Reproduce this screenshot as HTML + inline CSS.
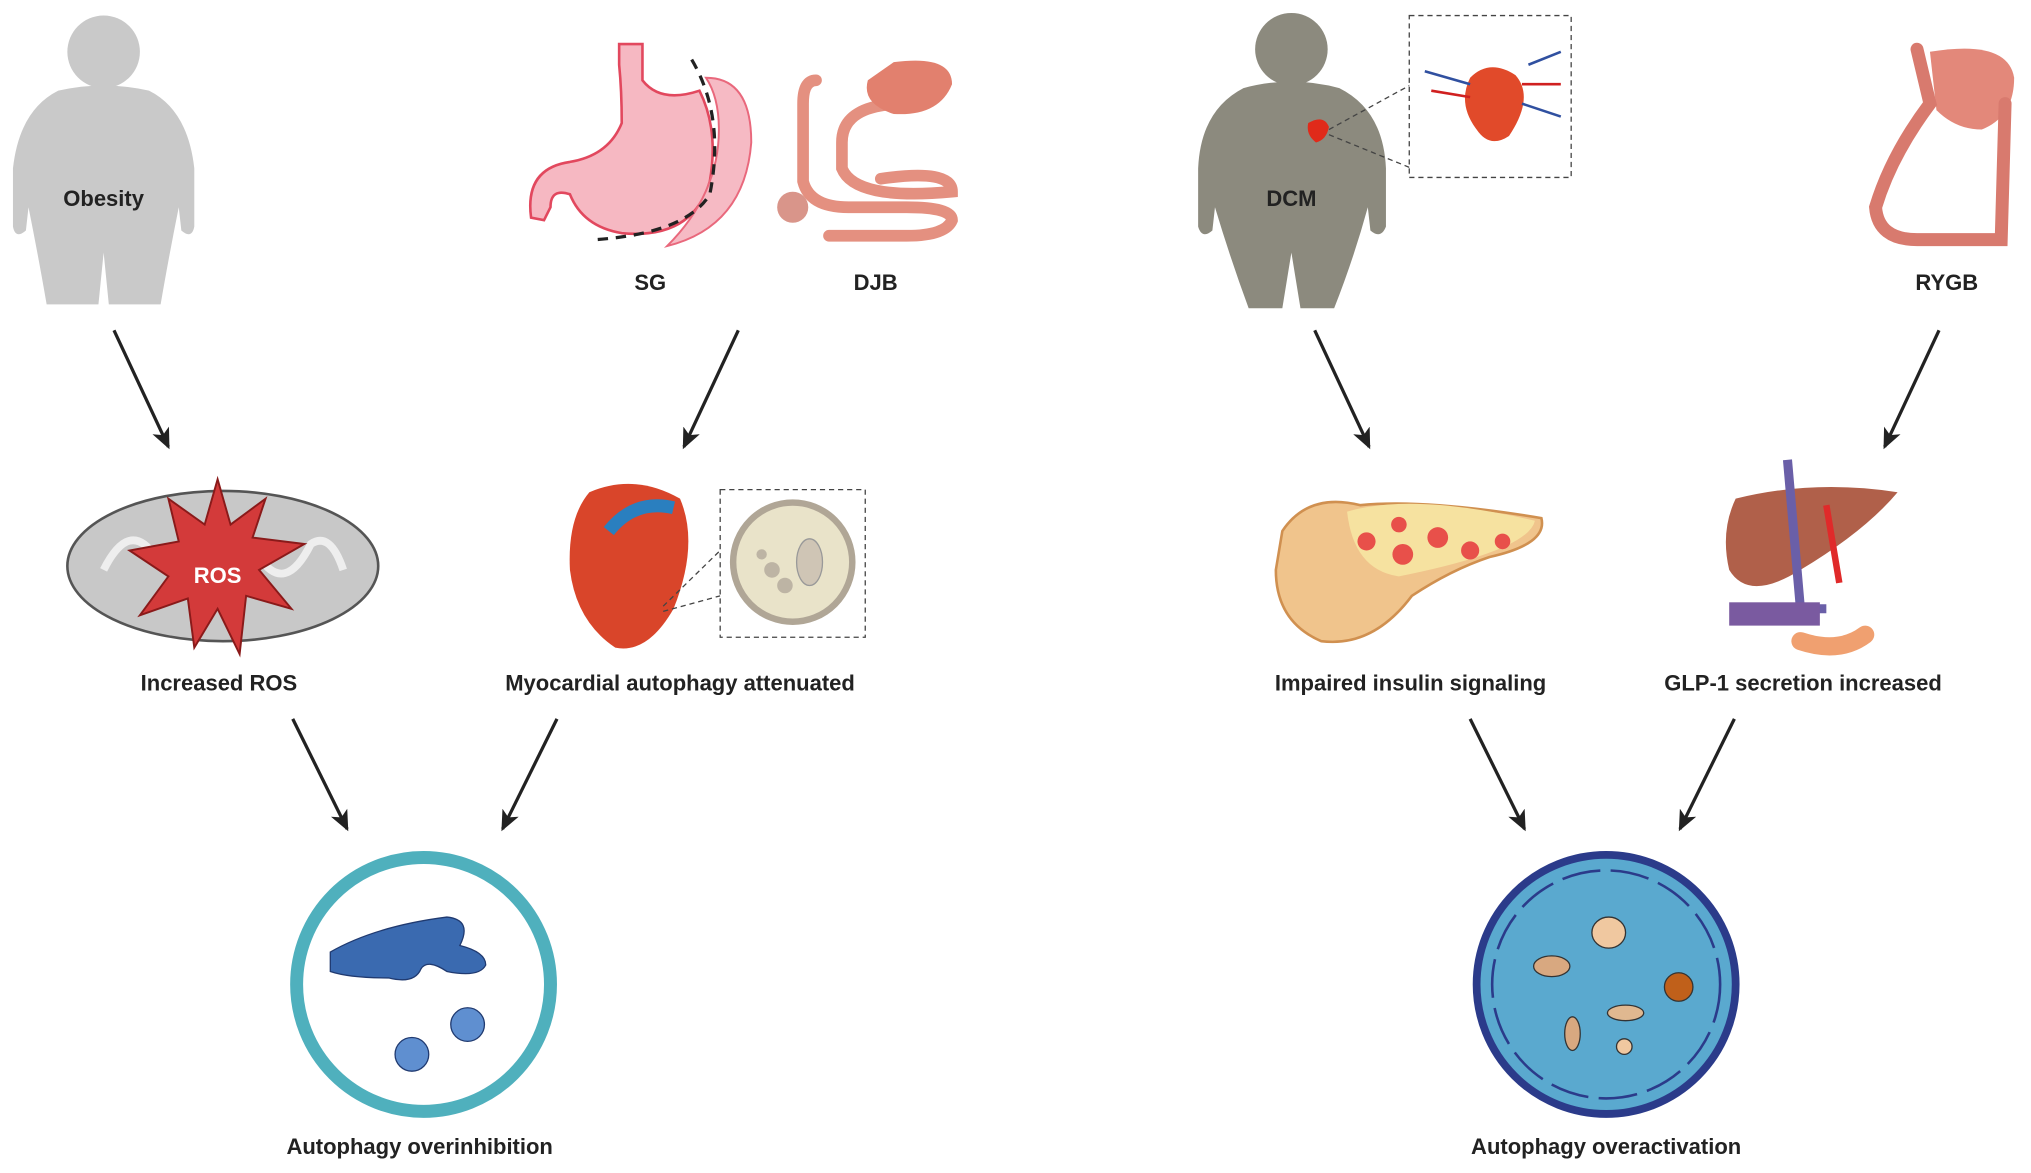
<!DOCTYPE html>
<html><head><meta charset="utf-8"><style>
html,body{margin:0;padding:0;background:#fff;width:2031px;height:1173px;overflow:hidden}
svg{display:block}
text{font-family:"Liberation Sans",Arial,sans-serif;font-weight:bold;fill:#222;font-size:17px;text-anchor:middle}
</style></head><body>
<svg width="2031" height="1173" viewBox="0 0 1568 905.6" xmlns="http://www.w3.org/2000/svg">
<defs>
<marker id="ah" markerWidth="18" markerHeight="14" refX="14" refY="7" orient="auto" markerUnits="userSpaceOnUse" viewBox="0 0 18 14">
<path d="M0,0 L16,7 L0,14 L4,7Z" fill="#222"/></marker>
</defs>
<!-- Obesity person -->
<g fill="#c9c9c9">
<circle cx="80" cy="40" r="28"/>
<path d="M45,70 Q80,62 115,70 Q145,85 150,130 L150,175 Q148,185 140,178 L138,160 Q130,200 124,235 L84,235 L80,195 L76,235 L36,235 Q30,200 22,160 L20,178 Q12,185 10,175 L10,130 Q15,85 45,70Z"/>
</g>
<text x="80" y="159">Obesity</text>
<!-- SG -->
<path d="M478,34 L496,34 L496,62 Q510,80 540,70 Q555,100 548,140 Q535,185 480,180 Q450,175 440,150 Q425,145 425,160 L420,170 L410,168 Q405,130 440,125 Q470,120 480,95 Q480,70 478,50Z" fill="#f6b8c2" stroke="#e2485e" stroke-width="2"/>
<path d="M545,60 Q580,60 580,110 Q575,175 515,190 Q555,150 555,100 Q555,75 545,60Z" fill="#f6bac4" stroke="#e9687c" stroke-width="1.5"/>
<path d="M534,46 Q560,90 548,150 Q530,180 460,185" fill="none" stroke="#222" stroke-width="2.5" stroke-dasharray="8,6"/>
<text x="502" y="224">SG</text>
<!-- DJB -->
<g fill="none" stroke="#e49080" stroke-width="9" stroke-linecap="round">
<path d="M630,62 Q620,62 620,80 L620,140 Q625,160 655,160 L700,160 Q735,160 735,170 Q730,182 700,182 L640,182"/>
<path d="M700,80 Q650,80 650,110 L650,130 Q660,155 735,148 Q735,130 680,138"/>
</g>
<path d="M690,48 Q735,42 735,65 Q725,90 690,88 Q665,80 670,62Z" fill="#e2806e"/>
<circle cx="612" cy="160" r="12" fill="#d9958a"/>
<text x="676" y="224">DJB</text>
<!-- DCM person -->
<g fill="#8c8a7e">
<circle cx="997" cy="38" r="28"/>
<path d="M960,68 Q997,58 1034,68 Q1068,85 1070,130 L1070,175 Q1066,185 1058,178 L1056,160 Q1045,200 1030,238 L1004,238 L997,195 L990,238 L964,238 Q950,200 938,160 L936,178 Q928,185 925,175 L925,130 Q927,85 960,68Z"/>
</g>
<path d="M1010,95 Q1022,88 1026,98 Q1024,108 1016,110 Q1008,104 1010,95Z" fill="#e02a1a"/>
<path d="M1026,100 L1090,65 M1026,104 L1090,130" stroke="#444" stroke-dasharray="4,3" fill="none"/>
<rect x="1088" y="12" width="125" height="125" fill="#fff" stroke="#444" stroke-dasharray="4,3"/>
<path d="M1135,60 Q1150,45 1170,58 Q1185,75 1165,105 Q1150,115 1140,100 Q1125,80 1135,60Z" fill="#e14a2a"/>
<path d="M1100,55 L1135,65 M1180,50 L1205,40 M1175,80 L1205,90" stroke="#3050a0" stroke-width="2"/>
<path d="M1105,70 L1135,75 M1175,65 L1205,65" stroke="#d02020" stroke-width="2"/>
<text x="997" y="159">DCM</text>
<!-- RYGB -->
<path d="M1490,40 Q1550,30 1555,60 Q1555,90 1530,100 Q1510,100 1495,85Z" fill="#e3887a"/>
<g fill="none" stroke="#d87a6e" stroke-width="10" stroke-linecap="round">
<path d="M1480,38 L1490,80 Q1460,120 1448,160 Q1450,185 1480,185 L1545,185 L1548,80"/>
</g>
<text x="1503" y="224">RYGB</text>
<!-- arrows -->
<g stroke="#222" stroke-width="2.5" marker-end="url(#ah)">
<line x1="88" y1="255" x2="130" y2="345"/>
<line x1="570" y1="255" x2="528" y2="345"/>
<line x1="1015" y1="255" x2="1057" y2="345"/>
<line x1="1497" y1="255" x2="1455" y2="345"/>
<line x1="226" y1="555" x2="268" y2="640"/>
<line x1="430" y1="555" x2="388" y2="640"/>
<line x1="1135" y1="555" x2="1177" y2="640"/>
<line x1="1339" y1="555" x2="1297" y2="640"/>
</g>
<!-- mitochondria -->
<ellipse cx="172" cy="437" rx="120" ry="58" fill="#c8c8c8" stroke="#555" stroke-width="2"/>
<path d="M80,440 Q100,400 120,430 Q140,460 160,420 Q180,400 200,430 Q220,460 240,420 Q255,410 265,440" fill="none" stroke="#eee" stroke-width="6"/>
<polygon points="168,370 178,405 205,385 195,415 235,420 200,440 225,470 190,460 185,505 168,470 150,500 145,462 108,475 130,445 100,425 138,418 130,385 158,405" fill="#d33a3a" stroke="#8a1a1a" stroke-width="1.5"/>
<text x="168" y="450" style="fill:#fff">ROS</text>
<text x="169" y="533">Increased ROS</text>
<!-- heart -->
<path d="M455,380 Q490,365 525,385 Q540,420 520,470 Q500,505 475,500 Q445,480 440,440 Q438,400 455,380Z" fill="#d9452a"/>
<path d="M470,410 Q490,385 520,392" stroke="#2a7fbf" stroke-width="10" fill="none"/>
<path d="M512,468 L556,425 M512,472 L556,460" stroke="#444" stroke-dasharray="4,3" fill="none"/>
<rect x="556" y="378" width="112" height="114" fill="#fff" stroke="#444" stroke-dasharray="4,3"/>
<circle cx="612" cy="434" r="46" fill="#e9e3c9" stroke="#b0a696" stroke-width="5"/>
<circle cx="596" cy="440" r="6" fill="#bdb4a4"/><circle cx="606" cy="452" r="6" fill="#bdb4a4"/><circle cx="588" cy="428" r="4" fill="#bdb4a4"/>
<ellipse cx="625" cy="434" rx="10" ry="18" fill="#cfc5b5" stroke="#999"/>
<text x="525" y="533">Myocardial autophagy attenuated</text>
<!-- pancreas -->
<path d="M990,410 Q1010,380 1050,390 Q1100,385 1190,400 Q1195,420 1150,430 Q1120,440 1090,460 Q1060,500 1020,495 Q985,480 985,440Z" fill="#f0c48c" stroke="#d09050" stroke-width="2"/>
<path d="M1040,395 Q1090,380 1185,402 Q1180,425 1080,445 Q1045,440 1040,395Z" fill="#f6e2a0"/>
<g fill="#e8504a"><circle cx="1055" cy="418" r="7"/><circle cx="1080" cy="405" r="6"/><circle cx="1110" cy="415" r="8"/><circle cx="1135" cy="425" r="7"/><circle cx="1160" cy="418" r="6"/><circle cx="1083" cy="428" r="8"/></g>
<text x="1089" y="533">Impaired insulin signaling</text>
<!-- liver -->
<path d="M1340,385 Q1400,370 1465,380 Q1440,410 1390,440 Q1350,465 1335,440 Q1328,410 1340,385Z" fill="#b0604a"/>
<path d="M1380,355 L1390,470 M1375,470 L1410,470" stroke="#6a5fa8" stroke-width="7" fill="none"/>
<path d="M1410,390 L1420,450" stroke="#e02a2a" stroke-width="5"/>
<rect x="1335" y="465" width="70" height="18" fill="#7a5aa0"/>
<path d="M1390,495 Q1420,505 1440,490" stroke="#f0a070" stroke-width="14" fill="none" stroke-linecap="round"/>
<text x="1392" y="533">GLP-1 secretion increased</text>
<!-- left circle -->
<circle cx="327" cy="760" r="98" fill="#fff" stroke="#4fb0bd" stroke-width="10"/>
<path d="M255,735 Q290,715 345,708 Q365,710 355,730 Q375,735 375,745 Q370,755 345,750 Q330,740 325,748 Q320,760 300,755 Q270,755 255,750Z" fill="#3a6ab0" stroke="#203a70"/>
<circle cx="318" cy="814" r="13" fill="#5f8fd0" stroke="#203a70"/>
<circle cx="361" cy="791" r="13" fill="#5f8fd0" stroke="#203a70"/>
<text x="324" y="891">Autophagy overinhibition</text>
<!-- right circle -->
<circle cx="1240" cy="760" r="100" fill="#5aa9cf" stroke="#2b3b8a" stroke-width="6"/>
<circle cx="1240" cy="760" r="88" fill="none" stroke="#2b3b8a" stroke-width="2" stroke-dasharray="30,8"/>
<ellipse cx="1242" cy="720" rx="13" ry="12" fill="#f0c8a0" stroke="#333"/>
<ellipse cx="1198" cy="746" rx="14" ry="8" fill="#d8a880" stroke="#333"/>
<circle cx="1296" cy="762" r="11" fill="#c0601a" stroke="#333"/>
<ellipse cx="1255" cy="782" rx="14" ry="6" fill="#e0b890" stroke="#333"/>
<ellipse cx="1214" cy="798" rx="6" ry="13" fill="#d8a880" stroke="#333"/>
<circle cx="1254" cy="808" r="6" fill="#f0c8a0" stroke="#333"/>
<text x="1240" y="891">Autophagy overactivation</text>
</svg>
</body></html>
